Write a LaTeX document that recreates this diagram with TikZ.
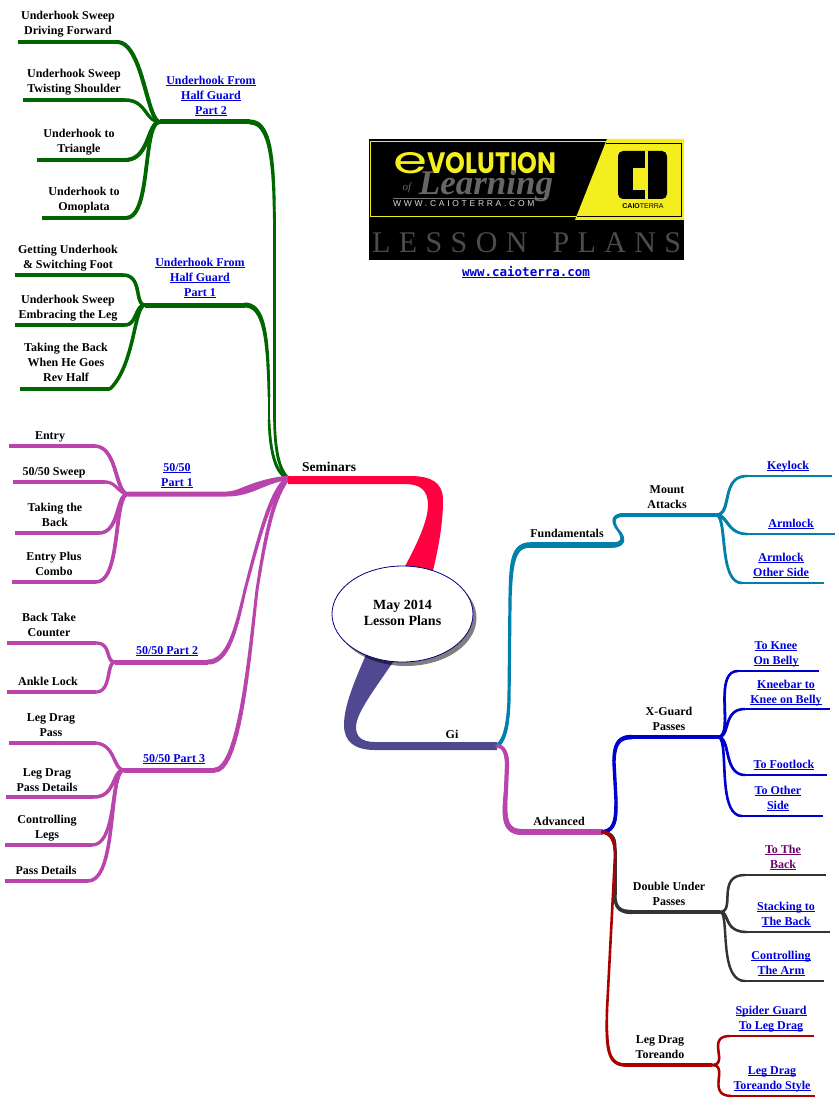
\documentclass[tikz,border=0pt]{standalone}
\usepackage{fontspec}
\usepackage{graphicx}
\setmainfont{Liberation Serif}
\usetikzlibrary{shapes.geometric}
\definecolor{mmgreen}{RGB}{0,102,0}
\definecolor{mmmag}{RGB}{184,68,172}
\definecolor{mmred}{RGB}{255,0,64}
\definecolor{mmgi}{RGB}{80,72,144}
\definecolor{mmteal}{RGB}{0,128,170}
\definecolor{mmblue}{RGB}{0,0,204}
\definecolor{mmdark}{RGB}{51,51,51}
\definecolor{mmdred}{RGB}{170,0,0}
\definecolor{linkblue}{RGB}{0,0,221}
\definecolor{linkpurple}{RGB}{110,0,110}
\definecolor{logoyellow}{RGB}{245,238,30}
\newcommand\mmUL[1]{\setbox0=\hbox{#1}\rlap{\rule[-1.6pt]{\wd0}{0.9pt}}\box0}
\newcommand\mmT[1]{\strut #1}
\newcommand\mmL[1]{\strut\mmUL{#1}}
% tapered bezier: style, start width, end width, bezier path
\newcommand\mmtaper[4]{%
  \foreach \k in {0,...,20}{\path #4 coordinate[pos=\k/20] (tp\k);}
  \foreach \k [evaluate=\k as \wd using #2+(#3-#2)*\k/19, evaluate=\k as \nx using int(\k+1)] in {0,...,19}{
    \draw[#1,line width=\wd pt,line cap=round] (tp\k) -- (tp\nx);}}
% branch: style, curve start width, line width, from, c1, c2, bend, free end
\newcommand\mmb[8]{%
  \mmtaper{#1}{#2}{#3}{(#4) .. controls #5 and #6 .. #7}
  \draw[#1,line width=#3pt] #7 -- (#8);}
\tikzset{
  lbl/.style={font=\fontsize{12}{15}\selectfont\bfseries,align=center,inner sep=0pt,text=black,yshift=-1.5pt},
  lnk/.style={lbl,text=linkblue},
  vis/.style={lbl,text=linkpurple},
  rootnode/.style={ellipse,draw=mmblue!60!black,line width=0.8pt,fill=white,minimum width=141pt,minimum height=96pt,inner sep=0pt,align=center,font=\fontsize{14}{16}\selectfont\bfseries},
  gr/.style={draw=mmgreen},
  mg/.style={draw=mmmag},
  tl/.style={draw=mmteal},
  bl/.style={draw=mmblue},
  dk/.style={draw=mmdark},
  dr/.style={draw=mmdred},
}
\begin{document}
\begin{tikzpicture}[x=1pt,y=-1pt]
\useasboundingbox (0,0) rectangle (838,1107);
\fill[white] (0,0) rectangle (838,1107);

% ---------- logo
\fill[black] (369,139) rectangle (684,260);
\draw[logoyellow,line width=1pt] (607,142) -- (370.5,142) -- (370.5,217) -- (578,217);
\fill[logoyellow] (607,139) -- (684,139) -- (684,220) -- (575,220) -- cycle;
\draw[black,line width=0.7pt] (606,143) -- (681,143) -- (681,216) -- (577,216);
\fill[black,rounded corners=5pt] (618,151) rectangle (667,199);
\fill[logoyellow] (633,168) rectangle (646,190);
\fill[logoyellow] (645,151) rectangle (647.5,199);
\node[inner sep=0pt,font=\fontsize{7}{8}\selectfont\fontspec{Liberation Sans}] (logoname) at (643,206.5) {\textbf{CAIO}TERRA};
\node[inner sep=0pt,text=logoyellow,anchor=west] (logoevo) at (393,163.5) {\fontspec{Poppins}\resizebox{34pt}{21pt}{e}\bfseries\resizebox{129pt}{21pt}{VOLUTION}};
\node[inner sep=0pt,text=black!60] (logolearn) at (486,186) {\resizebox{134pt}{24pt}{\fontspec{Liberation Serif}\bfseries\itshape Learning}};
\node[inner sep=0pt,text=black!60,font=\fontsize{11}{11}\selectfont\itshape] (logoof) at (407,188) {of};
\draw[black!55,line width=0.8pt] (393,198.5) -- (547,198.5);
\node[inner sep=0pt,anchor=west,text=black!15,font=\fontsize{8.5}{9}\selectfont] (logowww) at (393,204) {\fontspec{Liberation Sans}[LetterSpace=32]WWW.CAIOTERRA.COM};
\node[inner sep=0pt,anchor=base west,text=black!70] (logoplans) at (372,252) {\fontspec{Liberation Serif}[LetterSpace=28]\fontsize{30}{30}\selectfont LESSON\hspace{25pt}PLANS};
\node[inner sep=0pt,text=linkblue] (site) at (526,272) {\fontsize{12.5}{14}\selectfont\fontspec{DejaVu Sans Mono}[BoldFont=* Bold]\bfseries\mmUL{www.caioterra.com}};

% ---------- junction coordinates
\coordinate (hub) at (288,478);
\coordinate (gijoin) at (497,746);
\coordinate (uhbj) at (160,122);
\coordinate (uhaj) at (145,305);
\coordinate (fa) at (128,494);
\coordinate (fb) at (115,662);
\coordinate (fc) at (124,770);
\coordinate (fund) at (612,545);
\coordinate (mount) at (716,515);
\coordinate (adv) at (603,832);
\coordinate (xg) at (718,737);
\coordinate (du) at (720,912);
\coordinate (ldt) at (712,1065);

% free ends
\coordinate (e1) at (18,42);  \coordinate (e2) at (23,100);  \coordinate (e3) at (37,160);  \coordinate (e4) at (42,218);
\coordinate (e5) at (15,275); \coordinate (e6) at (15,325);  \coordinate (e7) at (20,389);
\coordinate (e8) at (9,446);  \coordinate (e9) at (13,482);  \coordinate (e10) at (15,533); \coordinate (e11) at (12,582);
\coordinate (e12) at (7,643); \coordinate (e13) at (7,692);
\coordinate (e14) at (9,743); \coordinate (e15) at (6,797);  \coordinate (e16) at (5,845);  \coordinate (e17) at (5,881);
\coordinate (r1) at (832,476); \coordinate (r2) at (835,534); \coordinate (r3) at (824,583);
\coordinate (r4) at (819,671); \coordinate (r5) at (830,709); \coordinate (r6) at (827,775); \coordinate (r7) at (823,816);
\coordinate (r8) at (826,875); \coordinate (r9) at (830,932); \coordinate (r10) at (824,981);
\coordinate (r11) at (814,1036); \coordinate (r12) at (815,1096);

% ---------- green: underhook part 2
\mmtaper{gr}{3.2}{2.6}{(hub) .. controls (279,470) and (275,450) .. (274.5,420)}
\draw[gr,line width=2.6pt] (274.5,420) -- (274.5,240);
\mmtaper{gr}{2.6}{5}{(274.5,240) .. controls (274.5,165) and (272,122) .. (250,122)}
\draw[gr,line width=5pt] (250,122) -- (uhbj);
\mmb{gr}{4}{4}{uhbj}{(147,122)}{(143,44)}{(118,42)}{e1}
\mmb{gr}{3}{3.5}{uhbj}{(145,122)}{(147,100)}{(125,100)}{e2}
\mmb{gr}{4}{4}{uhbj}{(147,122)}{(150,160)}{(125,160)}{e3}
\mmb{gr}{3.6}{4}{uhbj}{(142,122)}{(152,218)}{(126,218)}{e4}
% green: underhook part 1
\mmtaper{gr}{3.2}{2.6}{(hub) .. controls (275,474) and (270,450) .. (269,420)}
\draw[gr,line width=2.6pt] (269,420) -- (269,397);
\mmtaper{gr}{2.6}{5}{(269,397) .. controls (268,340) and (265,305) .. (245,305)}
\draw[gr,line width=5pt] (245,305) -- (uhaj);
\mmb{gr}{3.5}{3.5}{uhaj}{(134,305)}{(143,275)}{(123,275)}{e5}
\mmb{gr}{3.5}{3.5}{uhaj}{(135,305)}{(137,325)}{(125,325)}{e6}
\mmb{gr}{3.5}{3.5}{uhaj}{(134,305)}{(135,365)}{(110,389)}{e7}

% ---------- magenta left
\mmtaper{mg}{4.5}{3}{(hub) .. controls (272,490) and (262,525) .. (245,590)}
\mmtaper{mg}{3}{5}{(245,590) .. controls (236,630) and (228,662) .. (208,662)}
\draw[mg,line width=5pt] (208,662) -- (fb);
\mmtaper{mg}{4.5}{3}{(hub) .. controls (275,495) and (267,525) .. (257,590)}
\mmtaper{mg}{3}{5}{(257,590) .. controls (250,650) and (240,770) .. (215,770)}
\draw[mg,line width=5pt] (215,770) -- (fc);
\fill[mmmag] (fa |- 0,491.5) -- (227,491.5) .. controls (240,491.5) and (250,480) .. (288,475.5) -- (288,480) .. controls (265,483) and (252,496.5) .. (227,496.5) -- (fa |- 0,496.5) -- cycle;
\mmb{mg}{4}{3.5}{fa}{(115,494)}{(118,447)}{(95,446)}{e8}
\mmb{mg}{2.6}{3.2}{fa}{(118,494)}{(117,482)}{(105,482)}{e9}
\mmb{mg}{4}{3.5}{fa}{(116,494)}{(120,533)}{(99,533)}{e10}
\mmb{mg}{4}{3.5}{fa}{(113,494)}{(122,582)}{(96,582)}{e11}
\mmb{mg}{3.5}{3.2}{fb}{(105,662)}{(112,643)}{(96,643)}{e12}
\mmb{mg}{3.5}{3.2}{fb}{(106,662)}{(112,692)}{(96,692)}{e13}
\mmb{mg}{3.5}{3.2}{fc}{(113,770)}{(116,745)}{(96,743)}{e14}
\mmb{mg}{3.5}{3.5}{fc}{(112,770)}{(116,797)}{(94,797)}{e15}
\mmb{mg}{3.5}{3.2}{fc}{(110,770)}{(118,845)}{(92,845)}{e16}
\mmb{mg}{3.5}{3.5}{fc}{(108,770)}{(118,881)}{(88,881)}{e17}

% ---------- red main branch
\fill[mmred] (hub |- 0,476) -- (410,476) .. controls (432,476) and (443,483) .. (443,500) .. controls (443,525) and (438,550) .. (432,575) -- (403,570) .. controls (415,548) and (428,522) .. (428,505) .. controls (428,490) and (420,484) .. (405,484) -- (hub |- 0,484) -- cycle;
% ---------- Gi main branch
\fill[mmgi] (368,650) .. controls (355,680) and (344,705) .. (344,725) .. controls (344,742) and (355,750) .. (375,750) -- (gijoin |- 0,750) -- (gijoin |- 0,742) -- (375,742) .. controls (362,742) and (356,737) .. (356,727) .. controls (356,712) and (378,685) .. (397,656) -- cycle;

% ---------- teal
\mmtaper{tl}{4}{3.2}{(gijoin) .. controls (505,740) and (508,725) .. (509,700)}
\draw[tl,line width=3.2pt] (509,700) -- (510,600);
\mmtaper{tl}{3.2}{5.5}{(510,600) .. controls (511,565) and (512,545) .. (530,545)}
\draw[tl,line width=5.5pt] (530,545) -- (fund);
\mmtaper{tl}{5.5}{2.5}{(fund) .. controls (625,545) and (624,537) .. (618,530)}
\mmtaper{tl}{2.5}{4}{(618,530) .. controls (612,522) and (612,515) .. (624,515)}
\draw[tl,line width=4pt] (624,515) -- (mount);
\mmb{tl}{3.2}{2.6}{mount}{(733,515)}{(720,476)}{(747,476)}{r1}
\mmb{tl}{3.4}{2.6}{mount}{(728,515)}{(727,534)}{(747,534)}{r2}
\mmb{tl}{3}{2.6}{mount}{(728,515)}{(718,583)}{(742,583)}{r3}

% ---------- magenta advanced
\mmtaper{mg}{3.5}{4.2}{(gijoin) .. controls (503,746) and (507,752) .. (507,765)}
\draw[mg,line width=4.2pt] (507,765) -- (506,790);
\mmtaper{mg}{4.2}{6}{(506,790) .. controls (504,815) and (503,832) .. (522,832)}
\draw[mg,line width=6pt] (522,832) -- (adv);

% ---------- blue / dark gray / dark red from Advanced
\mmtaper{bl}{4}{3.4}{(adv) .. controls (616,830) and (616,817) .. (616,800)}
\draw[bl,line width=3.4pt] (616,800) -- (614,763);
\mmtaper{bl}{3.4}{4.5}{(614,763) .. controls (614,745) and (618,737) .. (632,737)}
\draw[bl,line width=4.5pt] (632,737) -- (xg);
\mmb{bl}{3}{2.5}{xg}{(735,737)}{(712,671)}{(738,671)}{r4}
\mmb{bl}{3}{2.5}{xg}{(731,737)}{(722,709)}{(745,709)}{r5}
\mmb{bl}{3}{2.5}{xg}{(731,737)}{(723,775)}{(745,775)}{r6}
\mmb{bl}{2.6}{2.5}{xg}{(730,737)}{(716,816)}{(742,816)}{r7}

\mmtaper{dk}{3.6}{3}{(adv) .. controls (614,834) and (615,840) .. (615,850)}
\draw[dk,line width=3pt] (615,850) -- (615,895);
\mmtaper{dk}{3}{4.2}{(615,895) .. controls (615,908) and (620,912) .. (632,912)}
\draw[dk,line width=4.2pt] (632,912) -- (du);
\mmb{dk}{2.6}{2.4}{du}{(736,912)}{(716,875)}{(745,875)}{r8}
\mmb{dk}{3}{2.4}{du}{(730,912)}{(723,932)}{(747,932)}{r9}
\mmb{dk}{2.4}{2.4}{du}{(730,912)}{(718,981)}{(745,981)}{r10}

\mmtaper{dr}{3.6}{2.6}{(adv) .. controls (612,834) and (615,842) .. (615,855)}
\draw[dr,line width=2.6pt] (615,855) -- (607,1010);
\mmtaper{dr}{2.6}{3.6}{(607,1010) .. controls (606,1050) and (608,1065) .. (626,1065)}
\draw[dr,line width=3.6pt] (626,1065) -- (ldt);
\mmb{dr}{2.6}{2.4}{ldt}{(730,1065)}{(705,1036)}{(730,1036)}{r11}
\mmb{dr}{2.6}{2.4}{ldt}{(730,1065)}{(705,1096)}{(732,1096)}{r12}

% ---------- root
\fill[black,opacity=0.5] (406,618) ellipse [x radius=70.5pt,y radius=48pt];
\node[rootnode] (root) at (402.5,614) {May 2014\\Lesson Plans\rule[-2pt]{0pt}{0pt}};

% ---------- labels, left
\node[lnk] (uhb) at (211,95) {\mmL{Underhook From}\\\mmL{Half Guard}\\\mmL{Part 2}};
\node[lnk] (uha) at (200,277) {\mmL{Underhook From}\\\mmL{Half Guard}\\\mmL{Part 1}};
\node[lbl] (n1) at (68,23) {\mmT{Underhook Sweep}\\\mmT{Driving Forward}};
\node[lbl] (n2) at (74,81) {\mmT{Underhook Sweep}\\\mmT{Twisting Shoulder}};
\node[lbl] (n3) at (79,141) {\mmT{Underhook to}\\\mmT{Triangle}};
\node[lbl] (n4) at (84,199) {\mmT{Underhook to}\\\mmT{Omoplata}};
\node[lbl] (n5) at (68,256) {\mmT{Getting Underhook}\\\mmT{\& Switching Foot}};
\node[lbl] (n6) at (68,306) {\mmT{Underhook Sweep}\\\mmT{Embracing the Leg}};
\node[lbl] (n7) at (66,362) {\mmT{Taking the Back}\\\mmT{When He Goes}\\\mmT{Rev Half}};
\node[lnk] (pa) at (177,474) {\mmL{50/50}\\\mmL{Part 1}};
\node[lnk] (pb) at (167,649.5) {\mmL{50/50 Part 2}};
\node[lnk] (pc) at (174,757.5) {\mmL{50/50 Part 3}};
\node[lbl] (n8) at (50,434.5) {\mmT{Entry}};
\node[lbl] (n9) at (54,470.5) {\mmT{50/50 Sweep}};
\node[lbl] (n10) at (55,514) {\mmT{Taking the}\\\mmT{Back}};
\node[lbl] (n11) at (54,563) {\mmT{Entry Plus}\\\mmT{Combo}};
\node[lbl] (n12) at (49,624) {\mmT{Back Take}\\\mmT{Counter}};
\node[lbl] (n13) at (48,680.5) {\mmT{Ankle Lock}};
\node[lbl] (n14) at (51,724) {\mmT{Leg Drag}\\\mmT{Pass}};
\node[lbl] (n15) at (47,779) {\mmT{Leg Drag}\\\mmT{Pass Details}};
\node[lbl] (n16) at (47,826) {\mmT{Controlling}\\\mmT{Legs}};
\node[lbl] (n17) at (46,869.5) {\mmT{Pass Details}};
% ---------- labels, centre
\node[lbl,font=\fontsize{13.5}{15}\selectfont\bfseries] (sem) at (329,466.5) {\mmT{Seminars}};
\node[lbl] (gi) at (452,733.5) {\mmT{Gi}};
\node[lbl] (fun) at (567,532.5) {\mmT{Fundamentals}};
\node[lbl] (advl) at (559,820.5) {\mmT{Advanced}};
% ---------- labels, right
\node[lbl] (ma) at (667,496) {\mmT{Mount}\\\mmT{Attacks}};
\node[lnk] (k1) at (788,465) {\mmL{Keylock}};
\node[lnk] (k2) at (791,522.5) {\mmL{Armlock}};
\node[lnk] (k3) at (781,564) {\mmL{Armlock}\\\mmL{Other Side}};
\node[lbl] (xgl) at (669,718) {\mmT{X-Guard}\\\mmT{Passes}};
\node[lnk] (k4) at (776,652) {\mmL{To Knee}\\\mmL{On Belly}};
\node[lnk] (k5) at (786,691) {\mmL{Kneebar to}\\\mmL{Knee on Belly}};
\node[lnk] (k6) at (784,763.5) {\mmL{To Footlock}};
\node[lnk] (k7) at (778,797) {\mmL{To Other}\\\mmL{Side}};
\node[lbl] (dul) at (669,893) {\mmT{Double Under}\\\mmT{Passes}};
\node[vis] (k8) at (783,856) {\mmL{To The}\\\mmL{Back}};
\node[lnk] (k9) at (786,913) {\mmL{Stacking to}\\\mmL{The Back}};
\node[lnk] (k10) at (781,962) {\mmL{Controlling}\\\mmL{The Arm}};
\node[lbl] (ldl) at (660,1046) {\mmT{Leg Drag}\\\mmT{Toreando}};
\node[lnk] (k11) at (771,1017) {\mmL{Spider Guard}\\\mmL{To Leg Drag}};
\node[lnk] (k12) at (772,1077) {\mmL{Leg Drag}\\\mmL{Toreando Style}};
\end{tikzpicture}
\end{document}
